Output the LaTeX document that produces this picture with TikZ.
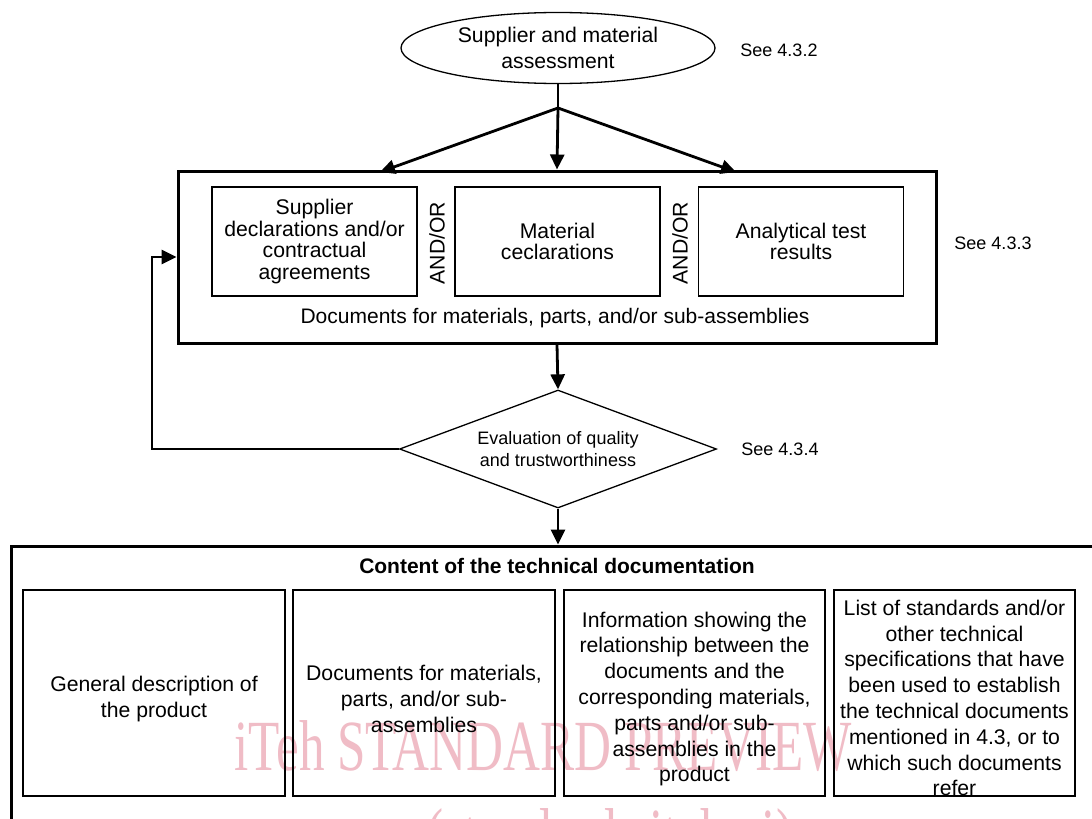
\documentclass[tikz,border=0pt]{standalone}
\usepackage{fontspec}
\setmainfont{Liberation Sans}
\newfontfamily\wmserif{Liberation Serif}
\usetikzlibrary{shapes.geometric,arrows.meta}
\definecolor{wmpink}{RGB}{240,188,198}
\begin{document}
\begin{tikzpicture}[x=1pt,y=-1pt,
  arr/.style={line width=2.8pt,-{Triangle[length=15pt,width=14pt]}},
  plainline/.style={line width=2.8pt},
  inbox/.style={draw,line width=1.3pt,minimum width=205pt,minimum height=109pt,inner sep=0pt,align=center,font=\fontsize{21.2}{21.7}\selectfont},
  lowbox/.style={draw,line width=1.3pt,minimum height=206pt,inner sep=0pt},
  lowtxt/.style={align=center,inner sep=0pt,font=\fontsize{21.2}{25.8}\selectfont},
  frame/.style={draw,line width=3pt,inner sep=0pt},
  seelabel/.style={font=\fontsize{18}{20}\selectfont},
  andor/.style={rotate=90,font=\fontsize{21.2}{21.7}\selectfont},
  txt/.style={font=\fontsize{21}{21.5}\selectfont,align=center},
  wm/.style={text=wmpink,font=\wmserif\fontsize{72}{72}\selectfont,anchor=base}
]
\useasboundingbox (0,0) rectangle (1092,819);
\clip (0,0) rectangle (1092,819);
\fill[white] (0,0) rectangle (1092,819);

% watermark
\node[wm] (wm1) at (543,770) {\scalebox{0.71}[1]{iTeh STANDARD PREVIEW}};
\node[wm] (wm2) at (610,858) {\scalebox{0.71}[1]{(standards.iteh.ai)}};

% top ellipse
\node[ellipse,draw,line width=1.3pt,minimum width=314pt,minimum height=71pt,inner sep=0pt,align=center,font=\fontsize{21.2}{26.5}\selectfont] (assess) at (558,48) {Supplier and material\\assessment};
\node[seelabel] (see2) at (779,50) {See 4.3.2};

% documents frame
\node[frame,minimum width=758pt,minimum height=172pt] (docs) at (557,257) {};
\node[inbox] (b1) at (314.5,241.5) {Supplier\\declarations and/or\\contractual\\agreements};
\node[inbox] (b2) at (557.5,241.5) {Material\\ceclarations};
\node[inbox] (b3) at (801,241.5) {Analytical test\\results};
\node[andor] (ao1) at (437,243) {AND/OR};
\node[andor] (ao2) at (680,243) {AND/OR};
\node[txt] (docslbl) at (555,318) {Documents for materials, parts, and/or sub-assemblies};
\node[seelabel] (see3) at (993,243) {See 4.3.3};

% arrows from ellipse
\coordinate (j) at (558,108);
\coordinate (tl) at (380,172);
\coordinate (tr) at (736,172);
\draw[plainline] (assess.south) -- (j);
\draw[arr] (j) -- (tl);
\draw[arr] (j) -- (docs.north);
\draw[arr] (j) -- (tr);

% evaluation diamond
\node[diamond,draw,line width=1.3pt,minimum width=317pt,minimum height=118pt,aspect=2.69,inner sep=0pt,align=center,font=\fontsize{18}{22.5}\selectfont] (eval) at (558,449) {Evaluation of quality\\and trustworthiness};
\node[seelabel] (see4) at (780,449) {See 4.3.4};
\draw[arr] (docs.south) -- (eval.north);

% feedback loop
\coordinate (fb) at (152,257);
\draw[arr] (eval.west) -| (fb) -- (docs.west |- fb);

% content frame
\node[frame,minimum width=1099pt,minimum height=284pt] (content) at (560.5,688) {};
\draw[arr] (eval.south) -- (eval.south |- content.north);
\node[font=\bfseries\fontsize{21}{21.5}\selectfont] (title) at (557,566) {Content of the technical documentation};
\node[lowbox,minimum width=262pt] (c1) at (154,693) {};
\node[lowbox,minimum width=262pt] (c2) at (424,693) {};
\node[lowbox,minimum width=261pt] (c3) at (694.5,693) {};
\node[lowbox,minimum width=241pt] (c4) at (954.5,693) {};
\node[lowtxt] (t1) at ([yshift=-6pt]c1.center) {General description of\\the product};
\node[lowtxt] (t2) at ([yshift=-6pt]c2.center) {Documents for materials,\\parts, and/or sub-\\assemblies};
\node[lowtxt] (t3) at ([yshift=-6pt]c3.center) {Information showing the\\relationship between the\\documents and the\\corresponding materials,\\parts and/or sub-\\assemblies in the\\product};
\node[lowtxt] (t4) at ([yshift=-5pt]c4.center) {List of standards and/or\\other technical\\specifications that have\\been used to establish\\the technical documents\\mentioned in 4.3, or to\\which such documents\\refer};
\end{tikzpicture}
\end{document}
